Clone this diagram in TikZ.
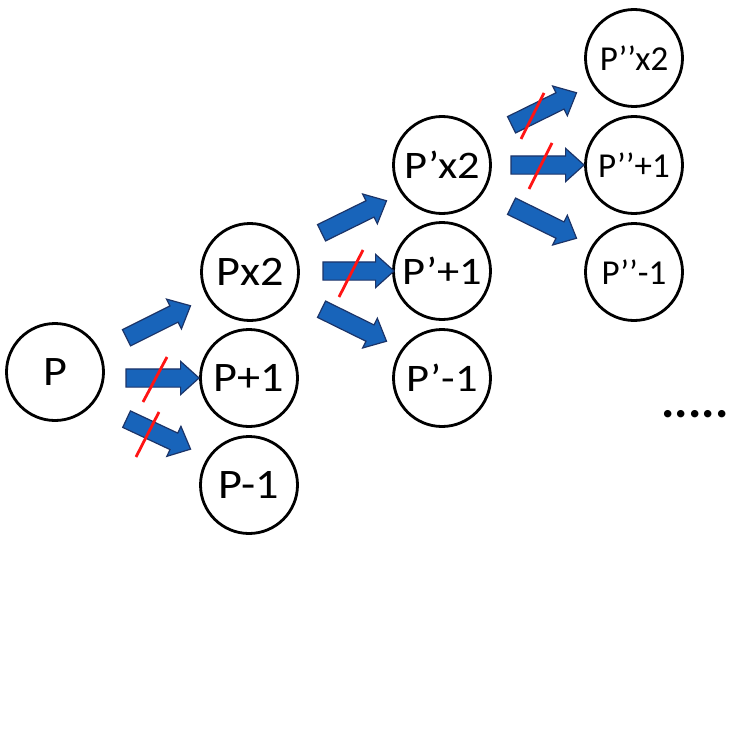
\documentclass[tikz,border=0pt]{standalone}
\usepackage{fontspec}
\usepackage{graphicx}
\setmainfont{Carlito}
\usetikzlibrary{shapes.arrows,calc}
\definecolor{arrowblue}{RGB}{24,100,186}
\definecolor{arrowedge}{RGB}{28,52,104}
\definecolor{slashred}{RGB}{255,20,20}
\newcommand\blockarr[3]{%
  \path let \p1=(#2), \p2=(#3), \n1={atan2(\y2-\y1,\x2-\x1)}, \n2={veclen(\x2-\x1,\y2-\y1)} in
    ($(\p1)!0.5!(\p2)$) node[barrow, rotate=\n1, minimum height=\n2] (#1) {};}
\newcommand\bigt[1]{\scalebox{1.1}[1]{#1}}
\newcommand\midt[1]{\scalebox{1.14}[1]{#1}}
\newcommand\smallt[1]{\scalebox{1.0}[1]{#1}}
\begin{document}
\begin{tikzpicture}[x=1pt,y=-1pt,
  state/.style={circle, draw=black, line width=2.8pt, minimum size=97pt, inner sep=0pt},
  bigtxt/.style={font=\fontsize{42}{42}\selectfont},
  midtxt/.style={font=\fontsize{39}{39}\selectfont},
  smalltxt/.style={font=\fontsize{35}{35}\selectfont},
  barrow/.style={single arrow, draw=arrowedge, fill=arrowblue, line width=1.2pt,
    inner xsep=0pt, inner ysep=8.5pt, outer sep=0pt, single arrow head extend=7.5pt,
    single arrow tip angle=84, single arrow head indent=0pt},
  slash/.style={draw=slashred, line width=2.8pt}]
\useasboundingbox (0,0) rectangle (733,733);
% circles
\node[state, bigtxt] (P) at (55,372) {\bigt{P}};
\node[state, bigtxt] (Px2) at (250,272) {\bigt{Px2}};
\node[state, bigtxt] (Pp1) at (249,378) {\bigt{P+1}};
\node[state, bigtxt] (Pm1) at (249,485) {\bigt{P-1}};
\node[state, midtxt] (Qx2) at (442,165) {\midt{P’x2}};
\node[state, midtxt] (Qp1) at (442,271) {\midt{P’+1}};
\node[state, midtxt] (Qm1) at (442,378) {\midt{P’-1}};
\node[state, smalltxt] (Rx2) at (634,58) {\smallt{P’’x2}};
\node[state, smalltxt] (Rp1) at (634,165) {\smallt{P’’+1}};
\node[state, smalltxt] (Rm1) at (634,272) {\smallt{P’’-1}};
% arrow ends
\coordinate (a1s) at (122,340); \coordinate (a1e) at (186,308);
\coordinate (a2s) at (121,378); \coordinate (a2e) at (194,378);
\coordinate (a3s) at (122,417); \coordinate (a3e) at (186,447);
\coordinate (b1s) at (317,235); \coordinate (b1e) at (382,203);
\coordinate (b2s) at (318,271); \coordinate (b2e) at (389,271);
\coordinate (b3s) at (317,307); \coordinate (b3e) at (382,339);
\coordinate (c1s) at (507,127); \coordinate (c1e) at (572,95);
\coordinate (c2s) at (506,165); \coordinate (c2e) at (579,165);
\coordinate (c3s) at (507,204); \coordinate (c3e) at (572,236);
\blockarr{a1}{a1s}{a1e}
\blockarr{a2}{a2s}{a2e}
\blockarr{a3}{a3s}{a3e}
\blockarr{b1}{b1s}{b1e}
\blockarr{b2}{b2s}{b2e}
\blockarr{b3}{b3s}{b3e}
\blockarr{c1}{c1s}{c1e}
\blockarr{c2}{c2s}{c2e}
\blockarr{c3}{c3s}{c3e}
% slashes
\coordinate (s1a) at (143,402); \coordinate (s1b) at (167,357);
\coordinate (s2a) at (136,457); \coordinate (s2b) at (159,412);
\coordinate (s3a) at (339,297); \coordinate (s3b) at (363,250);
\coordinate (s4a) at (521,139); \coordinate (s4b) at (544,93);
\coordinate (s5a) at (529,189); \coordinate (s5b) at (552,143);
\draw[slash] (s1a) -- (s1b);
\draw[slash] (s2a) -- (s2b);
\draw[slash] (s3a) -- (s3b);
\draw[slash] (s4a) -- (s4b);
\draw[slash] (s5a) -- (s5b);
% dots
\node[anchor=base, inner sep=0pt, font=\fontsize{50}{50}\selectfont\bfseries] (dots) at (695,417) {.....};
\end{tikzpicture}
\end{document}
